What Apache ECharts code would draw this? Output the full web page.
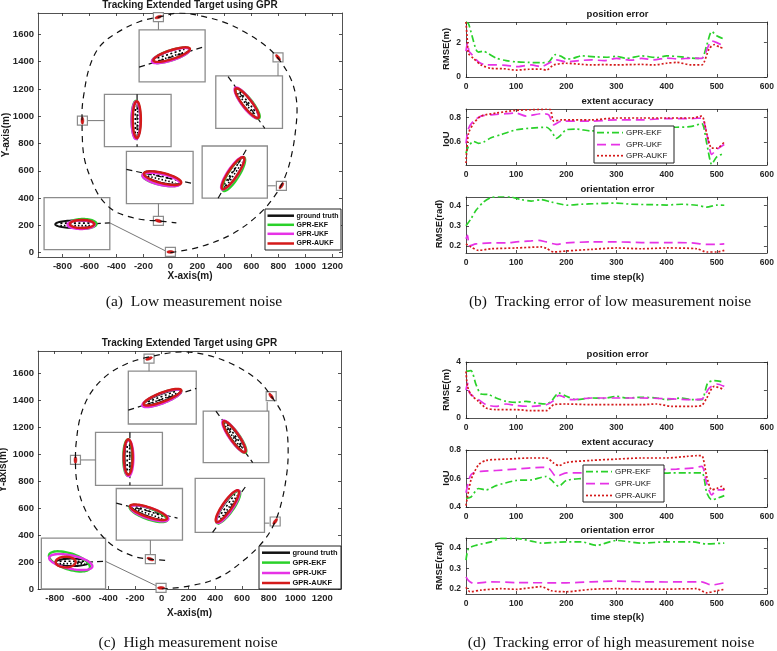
<!DOCTYPE html>
<html><head><meta charset="utf-8">
<script src="https://cdn.jsdelivr.net/npm/echarts@6/dist/echarts.min.js"></script>
<style>html,body{margin:0;padding:0;background:#fff}#c{width:777px;height:651px}</style>
</head><body><div id="c"></div>
<script>
// ---------------- DATA ----------------
const mapXTicks = [-800,-600,-400,-200,0,200,400,600,800,1000,1200];
const mapYTicks = [0,200,400,600,800,1000,1200,1400,1600];
const stepTicks = [0,100,200,300,400,500,600];
const posTicksLow = [0,2];
const posTicksHigh = [0,2,4];
const iouTicksLow = [0.6,0.8];
const iouTicksHigh = [0.4,0.6,0.8];
const oriTicks = [0.2,0.3,0.4];
const legendNamesMap = ['ground truth','GPR-EKF','GPR-UKF','GPR-AUKF'];
const legendNamesErr = ['GPR-EKF','GPR-UKF','GPR-AUKF'];

// trajectories (m)
const trajLow = [[0,0],[217,42],[464,140],[662,287],[785,434],[859,581],[905,752],[930,924],[938,1046],[925,1169],[884,1291],[797,1426],[711,1512],[563,1610],[415,1683],[242,1732],[69,1757],[-89,1727],[-227,1695],[-400,1610],[-523,1512],[-598,1365],[-640,1169],[-655,1022],[-652,826],[-635,679],[-585,532],[-523,409],[-425,311],[-301,262],[-178,238],[-89,233],[44,218]];
const trajHigh = [[0,0],[193,20],[418,81],[618,217],[768,365],[848,501],[900,662],[935,859],[945,1007],[935,1180],[900,1304],[818,1432],[718,1551],[543,1662],[343,1736],[155,1760],[-95,1723],[-258,1674],[-408,1588],[-533,1452],[-608,1279],[-640,1081],[-645,958],[-633,785],[-583,612],[-483,439],[-358,316],[-208,242],[-85,222],[30,212]];
// zoom insets [x1,y1,x2,y2]
const insetsLow = [[-232,1634,257,1252],[336,1296,830,911],[-489,1161,5,777],[-326,743,168,360],[235,782,718,399],[-936,404,-449,22]];
const insetsHigh = [[-250,1617,258,1225],[310,1321,800,938],[-495,1163,5,770],[-340,746,155,363],[250,822,768,420],[-900,378,-420,0]];
// trajectory pieces inside insets
const insetTrackLow = [[-232,1360,257,1512],[427,1291,699,911],[-247,1161,-247,777],[-326,610,168,507],[353,399,575,777],[-560,213,-449,218]];
const insetTrackHigh = [[-250,1328,258,1489],[405,1321,680,938],[-238,1163,-238,770],[-340,637,118,526],[380,420,630,765],[-633,198,-420,205]];
// small boxes on the trajectory [x,y,heading]
const boxesLow = [[-89,1727,18],[797,1431,-52],[-652,968,90],[-89,233,-14],[822,490,56],[0,5,0]];
const boxesHigh = [[-95,1711,21],[818,1432,-55],[-645,958,90],[-85,222,-20],[848,501,55],[-5,8,0]];
// connectors [x1,y1,x2,y2]
const linksLow = [[-89,1693,-89,1634],[797,1389,797,1296],[-617,968,-489,968],[-89,267,-89,360],[780,490,718,490],[-35,12,-449,218]];
const linksHigh = [[-95,1674,-95,1617],[788,1390,788,1321],[-608,958,-495,958],[-85,259,-85,363],[805,489,768,489],[-33,20,-420,205]];
// extent ellipses in insets [cx,cy,semiMajor,semiMinor,angle]
const gtLow   = [[7,1450,140,32,18],[568,1096,135,32,-52],[-252,973,135,28,90],[-62,548,140,36,-14],[464,581,140,32,56],[-701,208,152,28,0]];
const ekfLow  = [[5,1447,146,37,18],[571,1093,139,37,-52],[-255,975,139,33,90],[-66,538,143,42,-12],[469,576,146,40,58],[-648,211,100,36,0]];
const ukfLow  = [[3,1445,147,36,18],[564,1098,140,36,-53],[-255,970,139,32,90],[-68,536,143,40,-13],[461,582,143,37,56],[-662,205,100,32,0]];
const aukfLow = [[9,1452,142,33,18],[568,1096,137,33,-52],[-249,975,136,30,90],[-58,546,142,38,-14],[464,583,141,34,56],[-655,210,90,30,0]];
const gtHigh   = [[5,1422,150,28,21],[543,1131,140,28,-55],[-250,978,132,28,90],[-95,568,145,30,-20],[493,612,142,30,55],[-670,198,125,28,0]];
const ekfHigh  = [[3,1418,153,38,21],[546,1128,142,35,-55],[-253,975,135,35,90],[-100,560,148,42,-20],[497,608,146,40,55],[-690,205,160,60,-18]];
const ukfHigh  = [[0,1416,155,38,21],[540,1133,143,35,-55],[-248,972,135,36,90],[-92,562,148,40,-18],[495,612,145,38,56],[-680,200,165,50,-12]];
const aukfHigh = [[5,1424,150,34,21],[543,1131,140,32,-55],[-250,980,132,33,90],[-98,570,146,36,-19],[490,615,143,35,55],[-718,200,75,40,0]];

// tracking errors, low measurement noise [k, value]
const posLowEKF = [[0,3.2],[5,3.1],[12,2.4],[20,1.6],[25,1.45],[35,1.5],[45,1.35],[60,1.1],[80,0.95],[100,0.88],[125,0.85],[150,0.83],[165,0.88],[178,1.3],[190,1.2],[200,1.04],[215,1.1],[230,1.23],[260,1.17],[280,1.15],[300,1.2],[320,1.08],[350,1.23],[380,1.13],[400,1.23],[430,1.17],[450,1.1],[470,1.08],[480,1.85],[490,2.65],[500,2.4],[515,2.2]];
const posLowUKF = [[0,1.5],[3,2.0],[6,1.5],[10,1.37],[25,0.88],[40,0.7],[60,0.7],[80,0.68],[100,0.6],[130,0.7],[150,0.6],[170,0.88],[180,1.0],[200,0.88],[225,0.95],[250,1.0],[275,0.95],[300,1.08],[330,0.98],[350,1.08],[375,1.0],[400,1.1],[425,1.05],[450,1.1],[470,1.08],[490,2.1],[500,2.0],[515,1.8]];
const posLowAUKF = [[0,3.2],[3,2.0],[5,1.37],[15,1.08],[30,0.7],[50,0.5],[75,0.48],[100,0.4],[125,0.45],[150,0.46],[160,0.4],[175,0.7],[200,0.8],[225,0.75],[250,0.7],[275,0.72],[300,0.7],[325,0.72],[350,0.73],[375,0.7],[400,0.8],[420,0.85],[450,0.7],[470,0.7],[485,1.65],[495,1.88],[505,1.75],[515,1.65]];
const extLowEKF = [[0,0.51],[5,0.565],[15,0.605],[25,0.59],[35,0.6],[50,0.635],[70,0.66],[100,0.70],[130,0.713],[160,0.72],[170,0.69],[180,0.63],[190,0.66],[200,0.70],[220,0.705],[250,0.69],[280,0.70],[320,0.71],[360,0.715],[400,0.72],[420,0.72],[450,0.727],[470,0.75],[480,0.59],[490,0.42],[500,0.48],[515,0.51]];
const extLowUKF = [[0,0.59],[5,0.71],[15,0.77],[30,0.81],[50,0.82],[80,0.83],[100,0.835],[120,0.81],[150,0.83],[165,0.82],[175,0.74],[190,0.77],[250,0.77],[300,0.78],[350,0.78],[400,0.79],[450,0.79],[470,0.795],[480,0.67],[490,0.50],[500,0.54],[515,0.58]];
const extLowAUKF = [[0,0.43],[5,0.67],[15,0.75],[30,0.81],[60,0.835],[100,0.857],[130,0.862],[160,0.866],[168,0.864],[175,0.77],[190,0.78],[250,0.78],[300,0.795],[350,0.795],[400,0.795],[450,0.795],[470,0.81],[480,0.67],[490,0.55],[500,0.55],[515,0.60]];
const oriLowEKF = [[0,0.30],[10,0.335],[20,0.377],[35,0.418],[50,0.44],[70,0.446],[90,0.443],[110,0.43],[130,0.423],[150,0.43],[170,0.418],[190,0.407],[200,0.402],[230,0.407],[260,0.41],[300,0.413],[330,0.407],[370,0.405],[400,0.403],[430,0.407],[460,0.402],[480,0.393],[500,0.403],[515,0.402]];
const oriLowUKF = [[0,0.236],[3,0.253],[7,0.20],[20,0.21],[50,0.215],[80,0.215],[100,0.22],[130,0.225],[145,0.228],[160,0.22],[180,0.208],[200,0.215],[250,0.22],[300,0.22],[350,0.217],[400,0.217],[450,0.215],[480,0.208],[500,0.208],[515,0.21]];
const oriLowAUKF = [[0,0.21],[10,0.195],[25,0.178],[50,0.186],[100,0.19],[150,0.195],[160,0.188],[175,0.17],[200,0.175],[250,0.183],[300,0.19],[350,0.186],[400,0.19],[460,0.186],[480,0.17],[500,0.17],[515,0.178]];
// tracking errors, high measurement noise
const posHighEKF = [[0,3.33],[10,3.38],[20,2.38],[30,1.71],[45,1.67],[60,1.43],[80,1.19],[100,1.12],[120,1.19],[140,1.07],[160,1.0],[170,1.19],[185,1.79],[200,1.55],[220,1.31],[250,1.43],[275,1.4],[300,1.55],[320,1.43],[350,1.48],[380,1.43],[400,1.31],[430,1.43],[450,1.31],[470,1.31],[482,2.5],[495,2.67],[515,2.55]];
const posHighUKF = [[0,2.0],[3,2.5],[6,1.9],[10,1.67],[25,1.31],[40,0.95],[60,0.83],[80,1.0],[100,0.9],[130,0.83],[160,0.95],[175,1.24],[185,1.62],[210,1.31],[250,1.43],[300,1.43],[350,1.43],[400,1.38],[450,1.31],[470,1.35],[485,2.14],[500,2.43],[515,2.26]];
const posHighAUKF = [[0,3.33],[3,2.26],[10,1.67],[25,1.19],[40,0.71],[60,0.6],[100,0.6],[130,0.52],[160,0.52],[175,0.95],[200,1.0],[250,0.95],[300,0.95],[350,0.95],[380,1.0],[410,0.83],[450,0.83],[470,0.9],[480,1.43],[495,2.26],[515,2.02]];
const extHighEKF = [[0,0.46],[10,0.47],[25,0.53],[40,0.52],[60,0.55],[100,0.586],[130,0.59],[160,0.614],[170,0.59],[185,0.545],[200,0.586],[230,0.60],[270,0.61],[320,0.62],[370,0.63],[410,0.64],[440,0.64],[470,0.64],[480,0.50],[490,0.45],[500,0.46],[515,0.48]];
const extHighUKF = [[0,0.5],[8,0.614],[15,0.64],[30,0.65],[60,0.656],[100,0.666],[150,0.678],[165,0.673],[180,0.614],[200,0.64],[230,0.64],[300,0.65],[360,0.66],[420,0.666],[450,0.673],[470,0.685],[480,0.567],[490,0.485],[500,0.52],[515,0.52]];
const extHighAUKF = [[0,0.41],[10,0.59],[25,0.696],[40,0.727],[80,0.736],[130,0.744],[160,0.744],[175,0.708],[185,0.69],[200,0.713],[250,0.727],[300,0.736],[350,0.744],[400,0.744],[440,0.755],[460,0.76],[470,0.76],[480,0.614],[490,0.52],[500,0.53],[510,0.545],[515,0.52]];
const oriHighEKF = [[0,0.34],[5,0.397],[20,0.413],[50,0.43],[70,0.447],[100,0.447],[130,0.434],[150,0.424],[200,0.43],[230,0.43],[260,0.413],[300,0.437],[350,0.424],[400,0.43],[450,0.43],[480,0.42],[515,0.424]];
const oriHighUKF = [[0,0.258],[5,0.24],[15,0.226],[50,0.234],[100,0.23],[200,0.229],[250,0.234],[300,0.237],[350,0.234],[400,0.233],[470,0.234],[490,0.218],[515,0.229]];
const oriHighAUKF = [[0,0.207],[8,0.185],[30,0.193],[70,0.2],[100,0.197],[150,0.21],[170,0.19],[200,0.185],[250,0.197],[300,0.2],[350,0.198],[400,0.198],[460,0.2],[480,0.18],[500,0.19],[515,0.197]];

// ---------------- STYLE / LAYOUT ----------------
const AX = '#262626';
const GREEN = '#2ad12a', MAG = '#e632e6', RED = '#d41a1a', BLACK = '#111';
const SANS = 'Liberation Sans, Arial, sans-serif';
const SERIF = 'Liberation Serif, Times New Roman, serif';
const grids = [
  {left:38, top:13, width:304, height:244},   // a
  {left:38, top:351, width:303, height:238},  // c
  {left:466, top:22, width:303, height:55},   // b1
  {left:466, top:109, width:303, height:56},  // b2
  {left:466, top:197, width:303, height:56},  // b3
  {left:466, top:362, width:303, height:56},  // d1
  {left:466, top:450, width:303, height:57},  // d2
  {left:466, top:538, width:303, height:56}   // d3
];
const ranges = [
  {x:[-981,1271], y:[-32,1757], xt:mapXTicks, yt:mapYTicks, fs:9.5},
  {x:[-925,1340], y:[0,1767], xt:mapXTicks, yt:mapYTicks, fs:9.5},
  {x:[0,600], y:[0,3.2], xt:stepTicks, yt:posTicksLow, fs:8.5},
  {x:[0,600], y:[0.414,0.868], xt:stepTicks, yt:iouTicksLow, fs:8.5},
  {x:[0,600], y:[0.165,0.443], xt:stepTicks, yt:oriTicks, fs:8.5},
  {x:[0,600], y:[0,4], xt:stepTicks, yt:posTicksHigh, fs:8.5},
  {x:[0,600], y:[0.4,0.8], xt:stepTicks, yt:iouTicksHigh, fs:8.5},
  {x:[0,600], y:[0.174,0.449], xt:stepTicks, yt:oriTicks, fs:8.5}
];
const xAxes = [], yAxes = [];
function mkAxis(gi, min, max, ticks, pos, labels, fs, margin) {
  return {type:'value', gridIndex:gi, min, max, position:pos, splitLine:{show:false},
    axisLine:{show:true, onZero:false, lineStyle:{color:AX, width:0.8}},
    axisTick:{show:true, inside:true, length:3, customValues:ticks, lineStyle:{color:AX, width:0.8}},
    axisLabel:{show:labels, customValues:ticks, color:AX, fontSize:fs, fontWeight:'bold', fontFamily:SANS, margin,
      formatter:(v) => String(Math.round(v * 1000) / 1000)}};
}
ranges.forEach((r, gi) => {
  const left = gi < 2;
  xAxes.push(mkAxis(gi, r.x[0], r.x[1], r.xt, 'bottom', true, r.fs, left ? 4 : 5));
  xAxes.push(mkAxis(gi, r.x[0], r.x[1], r.xt, 'top', false, r.fs, 4));
  yAxes.push(mkAxis(gi, r.y[0], r.y[1], r.yt, 'left', true, r.fs, left ? 4 : 5));
  yAxes.push(mkAxis(gi, r.y[0], r.y[1], r.yt, 'right', false, r.fs, 4));
});

// ---------------- RENDERERS ----------------
function ellPts(c, a, b, th) {
  const pts = [];
  for (let i = 0; i < 60; i++) {
    const t = 2 * Math.PI * i / 60, x = a * Math.cos(t), y = b * Math.sin(t);
    pts.push([c[0] + x * Math.cos(th) - y * Math.sin(th), c[1] - (x * Math.sin(th) + y * Math.cos(th))]);
  }
  return pts;
}
function rectRender(params, api) {
  const p1 = api.coord([api.value(0), api.value(1)]), p2 = api.coord([api.value(2), api.value(3)]);
  return {type:'rect', shape:{x:Math.min(p1[0],p2[0]), y:Math.min(p1[1],p2[1]), width:Math.abs(p2[0]-p1[0]), height:Math.abs(p2[1]-p1[1])},
    style:{fill:'#fff', stroke:'#8c8c8c', lineWidth:1.3}};
}
function segRender(stroke, width, dash) {
  return (params, api) => {
    const p1 = api.coord([api.value(0), api.value(1)]), p2 = api.coord([api.value(2), api.value(3)]);
    return {type:'line', shape:{x1:p1[0], y1:p1[1], x2:p2[0], y2:p2[1]}, style:{stroke, lineWidth:width, lineDash:dash}};
  };
}
function boxRender(params, api) {
  const c = api.coord([api.value(0), api.value(1)]), th = api.value(2) * Math.PI / 180;
  return {type:'group', children:[
    {type:'rect', shape:{x:c[0]-5, y:c[1]-4.5, width:10, height:9}, style:{fill:'#fff', stroke:'#8c8c8c', lineWidth:1.2}},
    {type:'polygon', shape:{points:ellPts(c, 3.6, 1.4, th)}, style:{fill:RED, stroke:'#a00', lineWidth:0.5}}
  ]};
}
function ellRender(color, width, meas) {
  return (params, api) => {
    const c = api.coord([api.value(0), api.value(1)]);
    const a = api.size([api.value(2), 0])[0], b = api.size([api.value(3), 0])[0];
    const th = api.value(4) * Math.PI / 180;
    const children = [{type:'polygon', shape:{points:ellPts(c, a, b, th)}, style:{fill:'none', stroke:color, lineWidth:width}}];
    if (meas) {
      [-0.35, 0.3].forEach((o, i) => {
        const ox = -o * b * Math.sin(th), oy = -o * b * Math.cos(th);
        const dx = 0.75 * a * Math.cos(th), dy = -0.75 * a * Math.sin(th);
        children.push({type:'line', shape:{x1:c[0]-dx+ox, y1:c[1]-dy+oy, x2:c[0]+dx+ox, y2:c[1]+dy+oy},
          style:{stroke:'#000', lineWidth:1.6, lineDash: i ? [2,2.5] : [1.5,2]}});
      });
    }
    return {type:'group', children};
  };
}

const series = [];
function mapPanel(gi, traj, insets, tracks, links, boxes, gt, ekf, ukf, aukf) {
  const ax = {xAxisIndex:2*gi, yAxisIndex:2*gi};
  series.push(Object.assign({type:'line', data:traj, smooth:0.35, showSymbol:false, silent:true,
    lineStyle:{color:'#111', width:1.2, type:[6,5]}}, ax));
  series.push(Object.assign({type:'custom', renderItem:rectRender, data:insets, silent:true}, ax));
  series.push(Object.assign({type:'custom', renderItem:segRender('#111', 1.2, [6,4]), data:tracks, silent:true}, ax));
  series.push(Object.assign({type:'custom', renderItem:segRender('#777', 1, null), data:links, silent:true}, ax));
  series.push(Object.assign({type:'custom', renderItem:boxRender, data:boxes, silent:true}, ax));
  series.push(Object.assign({type:'custom', renderItem:ellRender(BLACK, 2, true), data:gt, silent:true}, ax));
  series.push(Object.assign({type:'custom', renderItem:ellRender(GREEN, 2.4, false), data:ekf, silent:true}, ax));
  series.push(Object.assign({type:'custom', renderItem:ellRender(MAG, 2.4, false), data:ukf, silent:true}, ax));
  series.push(Object.assign({type:'custom', renderItem:ellRender(RED, 2.4, false), data:aukf, silent:true}, ax));
}
mapPanel(0, trajLow, insetsLow, insetTrackLow, linksLow, boxesLow, gtLow, ekfLow, ukfLow, aukfLow);
mapPanel(1, trajHigh, insetsHigh, insetTrackHigh, linksHigh, boxesHigh, gtHigh, ekfHigh, ukfHigh, aukfHigh);

const lineStyles = [{color:GREEN, type:[7,3,2,3]}, {color:MAG, type:[9,5]}, {color:RED, type:[2,2]}];
function errPanel(gi, sets) {
  sets.forEach((d, i) => series.push({type:'line', xAxisIndex:2*gi, yAxisIndex:2*gi, data:d, smooth:0.25, showSymbol:false, silent:true,
    name:legendNamesErr[i], lineStyle:{color:lineStyles[i].color, width:1.7, type:lineStyles[i].type, cap:'butt'}}));
}
errPanel(2, [posLowEKF, posLowUKF, posLowAUKF]);
errPanel(3, [extLowEKF, extLowUKF, extLowAUKF]);
errPanel(4, [oriLowEKF, oriLowUKF, oriLowAUKF]);
errPanel(5, [posHighEKF, posHighUKF, posHighAUKF]);
errPanel(6, [extHighEKF, extHighUKF, extHighAUKF]);
errPanel(7, [oriHighEKF, oriHighUKF, oriHighAUKF]);

// ---------------- TEXT / LEGENDS ----------------
const g = [];
function txt(text, x, y, fs, opt) {
  opt = opt || {};
  g.push({type:'text', x, y, rotation:opt.rot || 0, z:100,
    style:{text, fontSize:fs, fontWeight:opt.weight || 'bold', fontFamily:opt.font || SANS, fill:opt.color || '#1a1a1a',
      textAlign:opt.align || 'center', textVerticalAlign:'middle'}});
}
txt('Tracking Extended Target using GPR', 190, 5.5, 10);
txt('Tracking Extended Target using GPR', 189.5, 343, 10);
txt('X-axis(m)', 190, 276.5, 10);
txt('X-axis(m)', 189.5, 613, 10);
txt('Y-axis(m)', 6, 135, 10, {rot:Math.PI/2});
txt('Y-axis(m)', 3, 470, 10, {rot:Math.PI/2});
[[14,101.5,189,277],[354.5,442.7,530,617]].forEach((ys) => {
  txt('position error', 617.5, ys[0], 9.5);
  txt('extent accuracy', 617.5, ys[1], 9.5);
  txt('orientation error', 617.5, ys[2], 9.5);
  txt('time step(k)', 617.5, ys[3], 9.5);
});
txt('RMSE(m)', 446, 49, 9.5, {rot:Math.PI/2});
txt('IoU', 446, 139, 9.5, {rot:Math.PI/2});
txt('RMSE(rad)', 439, 224, 9.5, {rot:Math.PI/2});
txt('RMSE(m)', 446, 390, 9.5, {rot:Math.PI/2});
txt('IoU', 446, 478, 9.5, {rot:Math.PI/2});
txt('RMSE(rad)', 439, 566, 9.5, {rot:Math.PI/2});
const capOpt = {weight:'normal', font:SERIF, color:'#111'};
txt('(a)  Low measurement noise', 194, 301.5, 15.5, capOpt);
txt('(b)  Tracking error of low measurement noise', 610, 301.5, 15.5, capOpt);
txt('(c)  High measurement noise', 188, 642.5, 15.5, capOpt);
txt('(d)  Tracking error of high measurement noise', 611, 642.5, 15.5, capOpt);

function legend(box, rows, lx1, lx2, tx, fs, names, styles, bold) {
  g.push({type:'rect', z:90, shape:{x:box[0], y:box[1], width:box[2], height:box[3]}, style:{fill:'#fff', stroke:'#222', lineWidth:1}});
  names.forEach((n, i) => {
    g.push({type:'line', z:91, shape:{x1:lx1, y1:rows[i], x2:lx2, y2:rows[i]}, style:{stroke:styles[i].color, lineWidth:styles[i].w, lineDash:styles[i].dash || null}});
    txt(n, tx, rows[i], fs, {align:'left', weight:bold ? 'bold' : 'normal', color:'#111'});
  });
}
const mapLegStyles = [{color:BLACK, w:2.5}, {color:GREEN, w:2.5}, {color:MAG, w:2.5}, {color:RED, w:2.5}];
const errLegStyles = [{color:GREEN, w:1.7, dash:[7,3,2,3]}, {color:MAG, w:1.7, dash:[9,5]}, {color:RED, w:1.7, dash:[2,2]}];
legend([265,209,76,41], [215.7,224.8,233.8,243.5], 267.5, 294, 296.5, 7, legendNamesMap, mapLegStyles, true);
legend([259,546,82,43], [552.7,562.6,573,583], 262, 290, 292.5, 7.5, legendNamesMap, mapLegStyles, true);
legend([594,126,80,37], [132.7,144.6,155.7], 597, 623, 626, 8, legendNamesErr, errLegStyles, false);
legend([583,465,81,37], [471.7,483.6,495.5], 586, 612, 615, 8, legendNamesErr, errLegStyles, false);

const chart = echarts.init(document.getElementById('c'), null, {renderer:'canvas'});
chart.setOption({animation:false, backgroundColor:'#fff', grid:grids, xAxis:xAxes, yAxis:yAxes, series, graphic:g});
</script></body></html>
